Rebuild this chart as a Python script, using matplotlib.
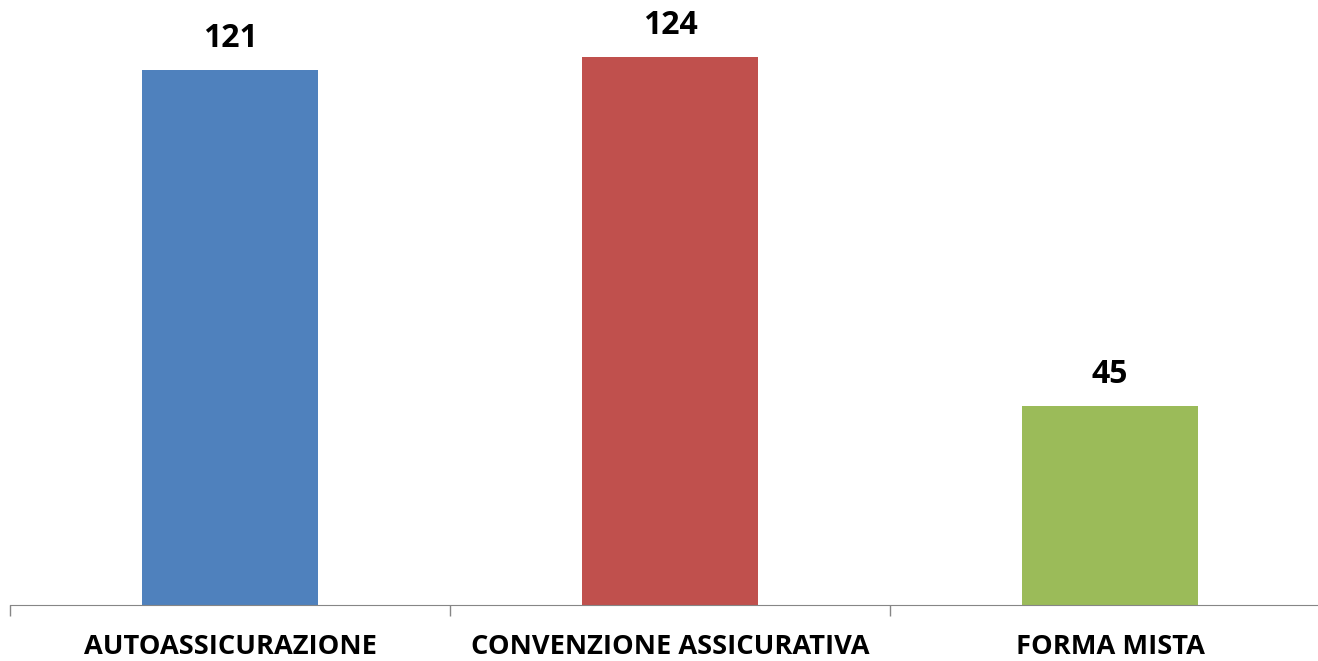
import numpy as np
import matplotlib.pyplot as plt

categorie = ["AUTOASSICURAZIONE", "CONVENZIONE ASSICURATIVA", "FORMA MISTA"]
valori = [121, 124, 45]
colori = ["#4F81BD", "#C0504D", "#9BBB59"]

plt.rcParams['font.family'] = ['Open Sans', 'DejaVu Sans']

fig = plt.figure(figsize=(13.18, 6.61), dpi=100)
ax = fig.add_axes([10 / 1318, 1 - 605 / 661, 1320 / 1318, 597 / 661])

x = np.arange(len(categorie))
barre = ax.bar(x, valori, width=0.4, color=colori)

for b, v in zip(barre, valori):
    ax.text(b.get_x() + b.get_width() / 2, v + 3.3, str(v),
            ha='center', va='bottom', fontsize=23, fontweight='bold')

ax.set_xlim(-0.5, len(categorie) - 0.5)
ax.set_ylim(0, 135)

# etichette al centro, tacche ai confini delle categorie
ax.set_xticks(x)
ax.set_xticklabels(categorie, fontsize=19.6, fontweight='bold')
ax.tick_params(axis='x', which='major', length=0, pad=21)
ax.set_xticks(np.arange(len(categorie) + 1) - 0.5, minor=True)
ax.tick_params(axis='x', which='minor', length=8, color='#868686', width=1)

ax.set_yticks([])
for s in ['top', 'right', 'left']:
    ax.spines[s].set_visible(False)
ax.spines['bottom'].set_color('#868686')

fig.savefig("out.png", dpi=100)
